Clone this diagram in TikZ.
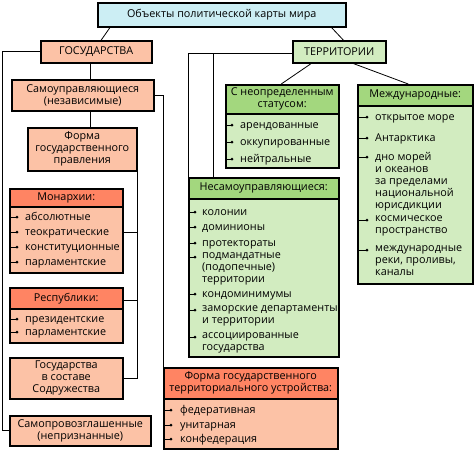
\documentclass[tikz,border=0pt]{standalone}
\usepackage{fontspec}
\setmainfont{Open Sans}
\usetikzlibrary{positioning}
\definecolor{titlefill}{HTML}{CCEEF4}
\definecolor{stbody}{HTML}{FCC2A6}
\definecolor{sthead}{HTML}{FF8463}
\definecolor{trbody}{HTML}{D2ECC0}
\definecolor{trhead}{HTML}{A3D77E}

\begin{document}
\begin{tikzpicture}[
  x=1pt,
  y=-1pt,
  every node/.style={font=\fontsize{10.8}{12}\selectfont, text=black},
  frame/.style={draw=black, line width=1.5pt, anchor=north west,
                inner sep=0pt, align=center},
  titlebox/.style={frame, fill=titlefill},
  stbox/.style={frame, fill=stbody},
  sthbox/.style={frame, fill=sthead},
  trbox/.style={frame, fill=trbody},
  trhbox/.style={frame, fill=trhead},
  link/.style={black, line width=0.8pt},
  bullet/.style={black, line width=0.8pt},
  dot/.style={circle, fill=black, inner sep=0pt, minimum size=3pt},
  item/.style={anchor=north west, inner sep=0pt, align=left,
               execute at begin node=\strut}
]
  \useasboundingbox (0,0) rectangle (475,450);

  % ---- top level ----
  \node[titlebox, minimum width=248pt, minimum height=24pt] (obj) at (97,2)
    {Объекты политической карты мира};
  \node[stbox, minimum width=111pt, minimum height=22pt] (gos) at (40,40)
    {ГОСУДАРСТВА};
  \node[trbox, minimum width=93pt, minimum height=22pt] (terr) at (292,40)
    {ТЕРРИТОРИИ};

  % ---- states ----
  \node[stbox, minimum width=142pt, minimum height=31pt] (self) at (11,79)
    {Самоуправляющиеся\\(независимые)};
  \node[stbox, minimum width=109pt, minimum height=43pt] (pravl) at (27,127)
    {Форма\\государственного\\правления};
  \node[sthbox, minimum width=113pt, minimum height=18pt] (monhead) at (9,188)
    {Монархии:};
  \node[stbox, minimum width=113pt, minimum height=66pt] (monbody) at (9,206) {};
  \node[sthbox, minimum width=113pt, minimum height=21pt] (resphead) at (9,287)
    {Республики:};
  \node[stbox, minimum width=113pt, minimum height=34pt] (respbody) at (9,308) {};
  \node[stbox, minimum width=113pt, minimum height=41pt] (sodr) at (9,357)
    {Государства\\в составе\\Содружества};
  \node[stbox, minimum width=141pt, minimum height=30pt] (unrec) at (9,415)
    {Самопровозглашенные\\(непризнанные)};
  \node[sthbox, minimum width=174pt, minimum height=31pt] (ustrhead) at (163,367)
    {Форма государственного\\территориального устройства:};
  \node[stbox, minimum width=174pt, minimum height=50pt] (ustrbody) at (163,398) {};

  % ---- territories ----
  \node[trhbox, minimum width=113pt, minimum height=29pt] (neoprhead) at (225,84)
    {С неопределенным\\статусом:};
  \node[trbox, minimum width=113pt, minimum height=54pt] (neoprbody) at (225,113) {};
  \node[trhbox, minimum width=115pt, minimum height=21pt] (mezhdhead) at (357,84)
    {Международные:};
  \node[trbox, minimum width=115pt, minimum height=178pt] (mezhdbody) at (357,105) {};
  \node[trhbox, minimum width=150pt, minimum height=21pt] (nesamhead) at (188,177)
    {Несамоуправляющиеся:};
  \node[trbox, minimum width=150pt, minimum height=158pt] (nesambody) at (188,198) {};

  % ---- connectors ----
  \coordinate (terrjoin) at ([yshift=-2pt]terr.west);
  \draw[link] ([xshift=13pt]obj.south west) -- ([xshift=5pt]gos.north);
  \draw[link] ([xshift=-15pt]obj.south east) -- ([xshift=4pt]terr.north);
  \draw[link] ([xshift=-6pt]gos.south) -- ([xshift=-6pt]gos.south |- self.north);
  \draw[link] ([xshift=-6pt]gos.south |- self.south)
    -- ([xshift=-6pt]gos.south |- pravl.north);
  \draw[link] (gos.west) -- ++(-38,0) |- (unrec.west);
  \draw[link] (self.east) -| (ustrhead.north west);
  \draw[link] (pravl.south east) |- (sodr.east);
  \draw[link] ([yshift=7pt]monbody.east) -- ([yshift=7pt]monbody.east -| pravl.south east);
  \draw[link] ([yshift=-2pt]resphead.east) -- ([yshift=-2pt]resphead.east -| pravl.south east);
  \draw[link] (terrjoin) -| (nesamhead.north west);
  \draw[link] ([xshift=25pt]nesamhead.north west |- terrjoin)
    -- ([xshift=25pt]nesamhead.north west);
  \draw[link] ([xshift=-28pt]terr.south) -- ([xshift=-1pt]neoprhead.north);
  \draw[link] ([xshift=14pt]terr.south) -- ([xshift=-7pt]mezhdhead.north);

  % ---- lists of items ----
  \foreach \y/\txt [count=\i] in {217/абсолютные, 232/теократические,
      247/конституционные, 262/парламентские}{
    \draw[bullet] (9,\y) -- (17,\y) node[dot] (mondot\i) {};
    \node[item] (monitem\i) at (25,\y-4.9) {\txt};
  }
  \foreach \y/\txt [count=\i] in {319/президентские, 332/парламентские}{
    \draw[bullet] (9,\y) -- (17,\y) node[dot] (respdot\i) {};
    \node[item] (respitem\i) at (25,\y-4.9) {\txt};
  }
  \foreach \y/\txt [count=\i] in {410/федеративная, 425/унитарная,
      439/конфедерация}{
    \draw[bullet] (163,\y) -- (171,\y) node[dot] (ustrdot\i) {};
    \node[item] (ustritem\i) at (180,\y-4.9) {\txt};
  }
  \foreach \y/\txt [count=\i] in {125/арендованные, 142/оккупированные,
      159/нейтральные}{
    \draw[bullet] (225,\y) -- (232,\y) node[dot] (neoprdot\i) {};
    \node[item] (neopritem\i) at (240,\y-4.9) {\txt};
  }
  \foreach \y/\txt [count=\i] in {117/{открытое море}, 138/Антарктика,
      157/{дно морей\\и океанов\\за пределами\\национальной\\юрисдикции},
      220/{космическое\\пространство},
      250/{международные\\реки, проливы,\\каналы}}{
    \draw[bullet] (357,\y) -- (367,\y) node[dot] (mezhddot\i) {};
    \node[item] (mezhditem\i) at (375,\y-4.9) {\txt};
  }
  \foreach \y/\txt [count=\i] in {212/колонии, 227/доминионы, 243/протектораты,
      257/{подмандатные\\(подопечные)\\территории}, 294/кондоминимумы,
      310/{заморские департаменты\\и территории},
      337/{ассоциированные\\государства}}{
    \draw[bullet] (188,\y) -- (195,\y) node[dot] (nesamdot\i) {};
    \node[item] (nesamitem\i) at (202,\y-4.9) {\txt};
  }
\end{tikzpicture}
\end{document}
